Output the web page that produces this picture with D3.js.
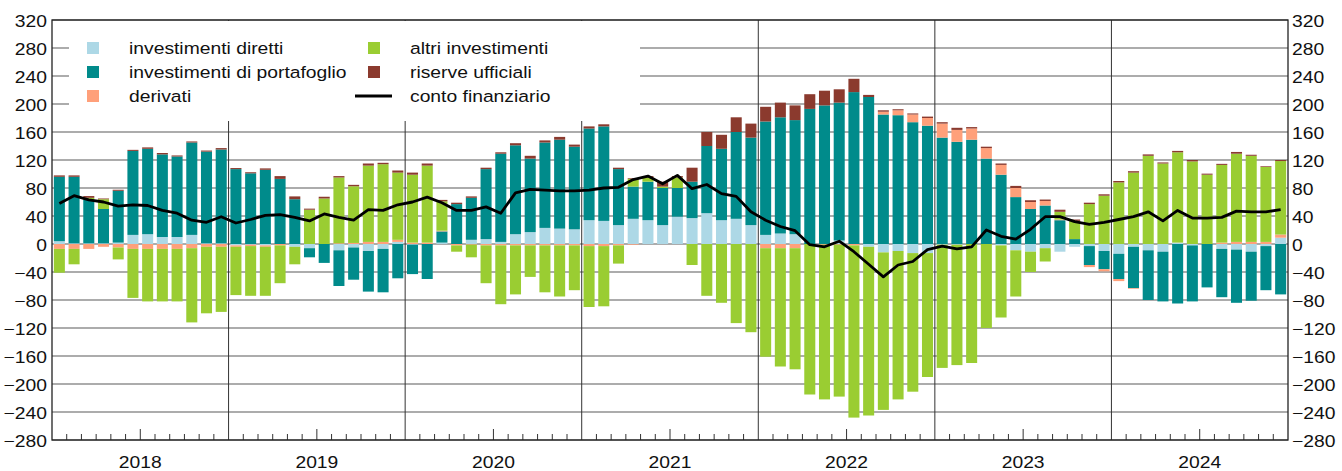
<!DOCTYPE html>
<html>
<head>
<meta charset="utf-8">
<script src="https://cdn.jsdelivr.net/npm/d3@7"></script>
<style>
  html, body { margin: 0; padding: 0; background: #fff; }
  svg { display: block; }
</style>
</head>
<body>
<svg id="chart" width="1342" height="471"></svg>
<script>
// ---------------- DATA ----------------
const years = ["2018", "2019", "2020", "2021", "2022", "2023", "2024"];
const monthsPerYear = 12;
const months = years.flatMap(y => d3.range(1, 13).map(m => y + "-" + String(m).padStart(2, "0")));

const investimentiDiretti = [
  4, 1, 1, 1, 2, 13, 14, 10, 10, 13, 1, 1,
  -2, -1, -2, 0, -4, -6, 0, -9, -5, -10, -7, 3,
  -1, 0, 2, 0, 6, 7, 3, 14, 17, 23, 22, 21,
  34, 33, 27, 36, 34, 27, 39, 37, 44, 34, 36, 27,
  13, 15, 14, 0, 0, 5, 0, -4, -12, -10, -13, -13,
  -1, -1, 0, 0, -2, -9, -11, -6, -11, -4, -3, -10,
  -14, -4, -9, -11, 2, -2, 0, -7, -8, -11, -3, 9
];
const investimentiPortafoglio = [
  92, 95, 62, 49, 74, 120, 122, 118, 115, 132, 131, 134,
  107, 101, 106, 93, 64, -13, -27, -51, -46, -58, -62, -49,
  -42, -50, 16, 57, 60, 100, 126, 127, 105, 122, 127, 118,
  131, 135, 80, 46, 55, 53, 41, 52, 96, 102, 124, 125,
  162, 166, 163, 193, 198, 197, 217, 210, 185, 184, 174, 169,
  152, 146, 149, 122, 99, 67, 50, 55, 34, 7, -27, -26,
  -36, -59, -71, -71, -85, -80, -62, -69, -76, -70, -63, -72
];
const derivati = [
  -7, -7, -7, -4, -5, -7, -7, -7, -7, -6, -4, -4,
  -2, -2, -2, -2, 0, 0, 0, 1, 1.5, 3, 3, 3,
  2, 2, 1, -2, -1, -2, -2, -2, -2, -2, -2, -2,
  -3, -3, -2, -1, 0, 0, 0, 0, 0, 0, 0, 0,
  -6, -6, -6, 0, -1, -1, -2, 0, 4, 7, 11, 11,
  20, 17, 16, 15, 14, 13, 10, 6.5, 1, 0, -3, -3,
  -3, -1, 0, 0, 0, 0, 0, 2, 3, 3, 3, 4.5
];
const altriInvestimenti = [
  -34, -22, 3, 14, -17, -70, -75, -75, -75, -106, -95, -93,
  -69, -71, -70, -54, -25, 49, 65, 94, 81, 109, 111, 96,
  97, 110, 42, -9, -18, -54, -84, -70, -45, -67, -73, -64,
  -87, -86, -26, 11, 6, 2, 15, -30, -74, -84, -113, -126,
  -155, -169, -173, -215, -221, -217, -246, -241, -225, -212, -198, -177,
  -176, -172, -170, -120, -103, -66, -29, -19, 11, 26, 57, 69,
  88, 102, 126, 115, 129, 118, 99, 111, 126, 123, 107, 105
];
const riserveUfficiali = [
  2, 2, 2.5, 1, 1.5, 1.5, 2, 2, 1.5, 1.5, 1.5, 2,
  1.5, 1.5, 2, 4, 4, 1.5, 2.5, 2, 2, 3, 2, 3,
  3, 3, 2, 2, 2, 2, 2, 3, 4, 3, 4, 3,
  3, 3, 2, 1, 2, 7, 2, 20, 20, 20, 21, 20,
  21, 21, 21, 21, 21, 19, 19, 3, 2, 1.5, 1.5, 2,
  2, 3, 2, 2, 2, 3, 2.5, 2, 3, 2, 2, 2,
  2, 2, 2, 1.5, 2, 2, 1.5, 1.5, 2.5, 1.5, 1, 1.5
];
const contoFinanziario = [
  58, 69, 63, 60, 54, 56, 55, 48, 44, 34, 31, 39,
  30, 35, 41, 42, 38, 33, 43, 38, 34, 49, 48, 56,
  60, 67, 59, 48, 48, 53, 44, 73, 78, 77, 76, 76,
  77, 80, 81, 92, 97, 86, 98, 79, 85, 72, 68, 46,
  34, 25, 19, -1, -4, 4, -11, -29, -47, -30, -25, -8,
  -3, -7, -4, 20, 11, 7, 21, 39, 39, 32, 28, 31,
  35, 39, 46, 33, 48, 37, 37, 38, 47, 46, 46, 49
];
const yTickValues = [-280, -240, -200, -160, -120, -80, -40, 0, 40, 80, 120, 160, 200, 240, 280, 320];

const seriesKeys = ["diretti", "portafoglio", "derivati", "altri", "riserve"];
const seriesLabels = {
  diretti: "investimenti diretti",
  portafoglio: "investimenti di portafoglio",
  derivati: "derivati",
  altri: "altri investimenti",
  riserve: "riserve ufficiali",
  conto: "conto finanziario"
};
const seriesColors = {
  diretti: "#add8e6",
  portafoglio: "#008b8b",
  derivati: "#ffa07a",
  altri: "#9acd32",
  riserve: "#8b3a2e"
};

// ---------------- LAYOUT ----------------
const W = 1342, H = 471;
const L = 52, R = 1288, T = 20, B = 440;
const FONT = "'Liberation Sans', Arial, Helvetica, sans-serif";
const FS = 16.5, SX = 1.17;

const svg = d3.select("#chart");
svg.append("rect").attr("width", W).attr("height", H).attr("fill", "#fff");

const table = months.map((m, i) => ({
  month: m,
  diretti: investimentiDiretti[i],
  portafoglio: investimentiPortafoglio[i],
  derivati: derivati[i],
  altri: altriInvestimenti[i],
  riserve: riserveUfficiali[i],
  conto: contoFinanziario[i]
}));

const x = d3.scaleBand().domain(months).range([L, R]).paddingInner(0.25).paddingOuter(0.125);
const y = d3.scaleLinear().domain([-280, 320]).range([B, T]);
const step = x.step();

// gridlines
svg.append("g").selectAll("line").data(yTickValues).join("line")
  .attr("x1", L).attr("x2", R)
  .attr("y1", d => y(d)).attr("y2", d => y(d))
  .attr("stroke", "#5a5a5a").attr("stroke-width", 1.1);

// year separators
const yearBounds = d3.range(1, years.length).map(k => L + k * monthsPerYear * step);
svg.append("g").selectAll("line").data(yearBounds).join("line")
  .attr("x1", d => d).attr("x2", d => d)
  .attr("y1", T).attr("y2", B)
  .attr("stroke", "#333").attr("stroke-width", 1);

// bars
const stack = d3.stack().keys(seriesKeys).offset(d3.stackOffsetDiverging);
const stacked = stack(table);
svg.append("g").selectAll("g").data(stacked).join("g")
  .attr("fill", d => seriesColors[d.key])
  .selectAll("rect").data(d => d).join("rect")
  .attr("x", d => x(d.data.month))
  .attr("width", x.bandwidth())
  .attr("y", d => y(Math.max(d[0], d[1])))
  .attr("height", d => Math.abs(y(d[0]) - y(d[1])));

// line
const line = d3.line()
  .x(d => x(d.month) + x.bandwidth() / 2)
  .y(d => y(d.conto));
svg.append("path").datum(table)
  .attr("d", line)
  .attr("fill", "none")
  .attr("stroke", "#000")
  .attr("stroke-width", 2.8)
  .attr("stroke-linejoin", "round");

// bottom month ticks
const tickBounds = d3.range(1, months.length).filter(i => i % monthsPerYear !== 0);
svg.append("g").selectAll("line").data(tickBounds).join("line")
  .attr("x1", i => L + i * step).attr("x2", i => L + i * step)
  .attr("y1", B).attr("y2", i => i % monthsPerYear === 6 ? B - 11 : B - 6)
  .attr("stroke", "#333").attr("stroke-width", 1);

// legend background
svg.append("rect").attr("x", 69).attr("y", T + 1).attr("width", 571).attr("height", 100).attr("fill", "#fff");

// frame
svg.append("rect").attr("x", L).attr("y", T).attr("width", R - L).attr("height", B - T)
  .attr("fill", "none").attr("stroke", "#222").attr("stroke-width", 1.3);

// text helper
function styleText(sel, anchor, dx, dy) {
  sel.attr("x", null).attr("y", null).attr("dy", null)
    .attr("transform", `translate(${dx},${dy}) scale(${SX},1)`)
    .attr("text-anchor", anchor)
    .attr("fill", "#111")
    .style("font-family", FONT)
    .style("font-size", FS + "px");
}

// axes
const axL = svg.append("g").attr("transform", `translate(${L},0)`)
  .call(d3.axisLeft(y).tickValues(yTickValues).tickSize(0).tickPadding(5));
axL.select(".domain").remove();
styleText(axL.selectAll("text"), "end", -5, 6.5);

const axR = svg.append("g").attr("transform", `translate(${R},0)`)
  .call(d3.axisRight(y).tickValues(yTickValues).tickSize(0).tickPadding(4));
axR.select(".domain").remove();
styleText(axR.selectAll("text"), "start", 4, 6.5);

const xYear = d3.scaleBand().domain(years).range([L, R]);
const axB = svg.append("g").attr("transform", `translate(0,${B})`)
  .call(d3.axisBottom(xYear).tickSize(0));
axB.select(".domain").remove();
styleText(axB.selectAll("text"), "middle", 0, 28);

// legend
const legendItems = [
  { key: "diretti", col: 0, row: 0, type: "rect" },
  { key: "portafoglio", col: 0, row: 1, type: "rect" },
  { key: "derivati", col: 0, row: 2, type: "rect" },
  { key: "altri", col: 1, row: 0, type: "rect" },
  { key: "riserve", col: 1, row: 1, type: "rect" },
  { key: "conto", col: 1, row: 2, type: "line" }
];
const colX = [{ sw: 87, tx: 129 }, { sw: 368, tx: 410 }];
const lg = svg.append("g");
legendItems.forEach(it => {
  const cy = 48 + it.row * 24;
  const c = colX[it.col];
  if (it.type === "rect") {
    lg.append("rect").attr("x", c.sw).attr("y", cy - 6).attr("width", 12).attr("height", 12)
      .attr("fill", seriesColors[it.key]);
  } else {
    lg.append("line").attr("x1", 355).attr("x2", 392).attr("y1", cy).attr("y2", cy)
      .attr("stroke", "#000").attr("stroke-width", 2.8);
  }
  lg.append("text")
    .attr("transform", `translate(${c.tx},${cy + 6}) scale(${SX},1)`)
    .attr("fill", "#111")
    .style("font-family", FONT).style("font-size", FS + "px")
    .text(seriesLabels[it.key]);
});
</script>
</body>
</html>
